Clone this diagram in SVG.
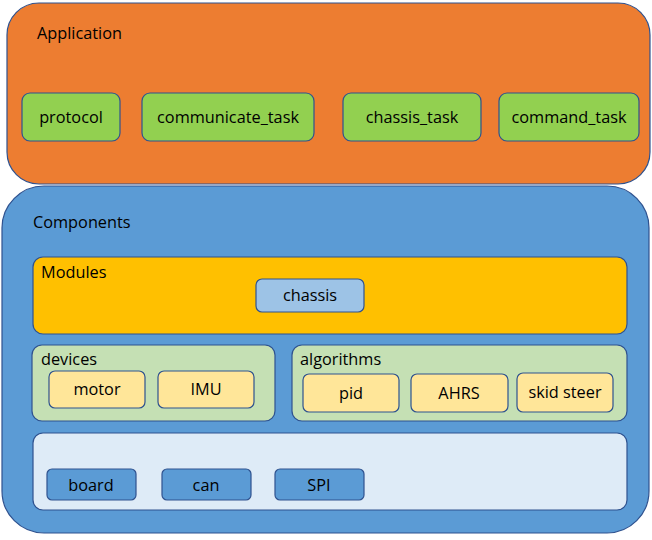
<svg xmlns="http://www.w3.org/2000/svg" width="652" height="540" viewBox="0 0 652 540">
<style>
.t{font-family:"Open Sans","Liberation Sans",sans-serif;font-size:16.3px;fill:#000}
.c{text-anchor:middle}
.s{stroke:#2F528F;stroke-width:1.2}
.app{fill:#ED7D31}
.comp{fill:#5B9BD5}
.grn{fill:#92D050}
.mod{fill:#FFC000}
.lg{fill:#C5E0B4}
.ly{fill:#FFE699}
.lb{fill:#9DC3E6}
.pb{fill:#DEEBF7}
</style>
<g id="application">
<rect class="app s" x="7" y="3" width="643" height="181" rx="32"/>
<text class="t" x="37" y="39">Application</text>
</g>
<g id="protocol"><rect class="grn s" x="22" y="93" width="98" height="48" rx="8"/><text class="t c" x="71" y="123">protocol</text></g>
<g id="communicate_task"><rect class="grn s" x="142" y="93" width="172" height="48" rx="8"/><text class="t c" x="228" y="123">communicate_task</text></g>
<g id="chassis_task"><rect class="grn s" x="343" y="93" width="138" height="48" rx="8"/><text class="t c" x="412" y="123">chassis_task</text></g>
<g id="command_task"><rect class="grn s" x="499" y="93" width="140" height="48" rx="8"/><text class="t c" x="569" y="123">command_task</text></g>
<g id="components">
<rect class="comp s" x="2" y="186" width="647" height="347" rx="42"/>
<text class="t" x="33" y="228">Components</text>
</g>
<g id="modules"><rect class="mod s" x="33" y="257" width="594" height="77" rx="10"/><text class="t" x="41" y="278">Modules</text></g>
<g id="chassis"><rect class="lb s" x="256" y="279" width="108" height="33" rx="6"/><text class="t c" x="310" y="301">chassis</text></g>
<g id="devices"><rect class="lg s" x="32" y="345" width="243" height="76" rx="10"/><text class="t" x="41" y="365">devices</text></g>
<g id="motor"><rect class="ly s" x="49" y="371" width="96" height="37" rx="6"/><text class="t c" x="97" y="395">motor</text></g>
<g id="IMU"><rect class="ly s" x="158" y="371" width="96" height="37" rx="6"/><text class="t c" x="206" y="395">IMU</text></g>
<g id="algorithms"><rect class="lg s" x="292" y="345" width="335" height="76" rx="10"/><text class="t" x="300" y="365">algorithms</text></g>
<g id="pid"><rect class="ly s" x="303" y="374" width="96" height="38" rx="6"/><text class="t c" x="351" y="399">pid</text></g>
<g id="AHRS"><rect class="ly s" x="411" y="374" width="97" height="38" rx="6"/><text class="t c" x="459" y="399">AHRS</text></g>
<g id="skid_steer"><rect class="ly s" x="517" y="373" width="96" height="39" rx="6"/><text class="t c" x="565" y="398">skid steer</text></g>
<g id="platform"><rect class="pb s" x="33" y="433" width="594" height="77" rx="10"/></g>
<g id="board"><rect class="comp s" x="47" y="469" width="89" height="31" rx="5"/><text class="t c" x="91" y="491">board</text></g>
<g id="can"><rect class="comp s" x="162" y="469" width="89" height="31" rx="5"/><text class="t c" x="206" y="491">can</text></g>
<g id="SPI"><rect class="comp s" x="275" y="469" width="89" height="31" rx="5"/><text class="t c" x="319" y="491">SPI</text></g>
<g id="connectors"></g>
</svg>
